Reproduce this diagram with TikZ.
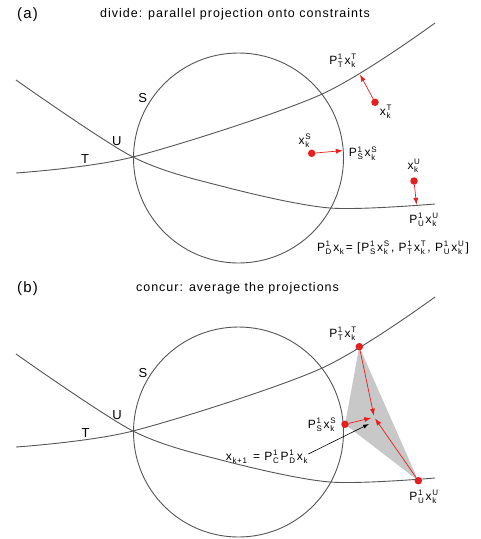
\documentclass[tikz,border=0pt]{standalone}
\usepackage{amsmath}
\usepackage{fontspec}
\setmainfont{Liberation Sans}[LetterSpace=8]
\usetikzlibrary{arrows.meta}

\definecolor{curvecol}{RGB}{85,85,85}
\definecolor{redc}{RGB}{230,30,30}
\definecolor{trigray}{RGB}{200,200,200}

\newcommand\SP[2]{\hspace{0.7pt}\ensuremath{^{\text{\fontsize{8}{8}\selectfont #1}}_{\text{\fontsize{8}{8}\selectfont #2}}}\hspace{1.3pt}}

\tikzset{
  curve/.style={draw=curvecol, line width=0.9pt},
  lab/.style={font=\fontsize{12}{14}\selectfont, inner sep=0pt},
  cname/.style={font=\fontsize{13}{15}\selectfont, inner sep=0pt},
  panel/.style={font=\fontsize{15}{18}\selectfont, inner sep=0pt},
  ttl/.style={font=\fontsize{12.5}{15}\selectfont, inner sep=0pt},
  dotr/.style={circle, fill=redc, inner sep=0pt, minimum size=7.5pt},
  rarrow/.style={draw=redc, line width=0.7pt, -{Latex[length=7pt,width=5pt]}},
  barrow/.style={draw=black, line width=0.6pt, -{Latex[length=6pt,width=4pt]}},
}

\begin{document}
\begin{tikzpicture}[x=1pt,y=-1pt]
\useasboundingbox (0,0) rectangle (481,539);

% ---------------- panel (a)
\node[panel] (pa) at (27.5,15) {(a)};
\node[ttl] (ta) at (235,14.5) {divide: parallel projection onto constraints};

\draw[curve] (238.5,158) circle[radius=105];
\draw[curve] plot[smooth] coordinates {(16,173) (133,157) (320,95) (435,23)};
\draw[curve] plot[smooth] coordinates {(16,80) (133,157) (225,187) (330,208) (435,204)};

\node[cname] (sa) at (142.7,98.3) {S};
\node[cname] (ua) at (116.7,141) {U};
\node[cname] (tta) at (85,159.3) {T};

\node[dotr] (xT) at (375,102.3) {};
\coordinate (pT) at (360,74.5);
\draw[rarrow] (xT) -- (pT);
\node[lab] (lxT) at (386,112) {x\SP{T}{k}};
\node[lab] (lpT) at (343,61) {P\SP{1}{T}x\SP{T}{k}};

\node[dotr] (xS) at (311.7,153.3) {};
\coordinate (pS) at (342.8,150.6);
\draw[rarrow] (xS) -- (pS);
\node[lab] (lxS) at (305,141) {x\SP{S}{k}};
\node[lab] (lpS) at (363,153.5) {P\SP{1}{S}x\SP{S}{k}};

\node[dotr] (xU) at (414,181) {};
\coordinate (pU) at (416.5,204.8);
\draw[rarrow] (xU) -- (pU);
\node[lab] (lxU) at (414,166) {x\SP{U}{k}};
\node[lab] (lpU) at (424,220) {P\SP{1}{U}x\SP{U}{k}};

\node[lab] (fa) at (393,248) {P\SP{1}{D}x\SP{}{k}= [P\SP{1}{S}x\SP{S}{k}, P\SP{1}{T}x\SP{T}{k}, P\SP{1}{U}x\SP{U}{k}]};

% ---------------- panel (b)
\node[panel] (pb) at (27.5,288.5) {(b)};
\node[ttl] (tb) at (237.5,288.3) {concur: average the projections};

\begin{scope}[yshift=-274pt]
\fill[trigray] (359.3,72.7) -- (345,150.3) -- (418.3,206.7) -- cycle;
\draw[curve] (238.5,158) circle[radius=105];
\draw[curve] plot[smooth] coordinates {(16,173) (133,157) (320,95) (435,23)};
\draw[curve] plot[smooth] coordinates {(16,80) (133,157) (225,187) (330,208) (435,204)};

\node[cname] (sb) at (143,99) {S};
\node[cname] (ub) at (117,141) {U};
\node[cname] (ttb) at (85.5,159.3) {T};

\node[dotr] (PT) at (359.3,72.7) {};
\node[dotr] (PS) at (345,150.3) {};
\node[dotr] (PU) at (418.3,206.7) {};
\coordinate (avg) at (374.2,143.2);
\draw[rarrow, shorten >=1.5pt] (PT) -- (avg);
\draw[rarrow, shorten >=3pt] (PS) -- (avg);
\draw[rarrow, shorten >=1.5pt] (PU) -- (avg);

\node[lab] (lPT) at (343,60) {P\SP{1}{T}x\SP{T}{k}};
\node[lab] (lPS) at (322,151) {P\SP{1}{S}x\SP{S}{k}};
\node[lab] (lPU) at (424,223) {P\SP{1}{U}x\SP{U}{k}};

\node[lab] (fb) at (267,183) {x\SP{}{k+1} = P\SP{1}{C}P\SP{1}{D}x\SP{}{k}};
\coordinate (bend) at (369,150);
\draw[barrow] ([yshift=3pt]fb.east) -- (bend);
\end{scope}
\end{tikzpicture}
\end{document}
